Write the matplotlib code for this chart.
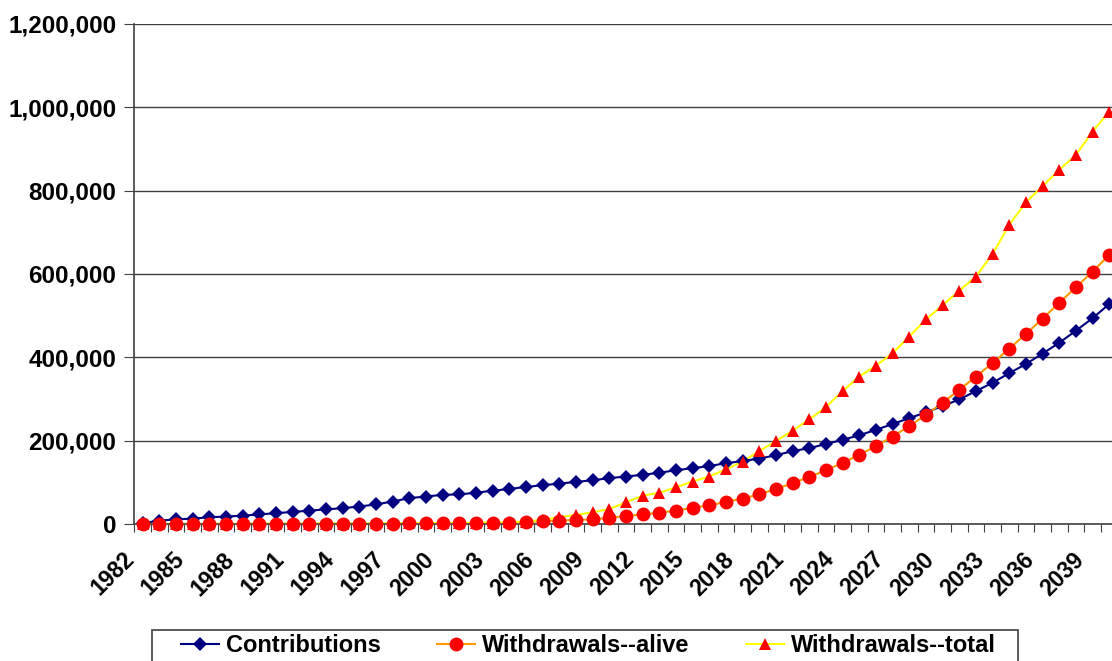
import matplotlib
matplotlib.use("Agg")
import matplotlib.pyplot as plt
import matplotlib.transforms as mtransforms
from matplotlib.lines import Line2D
from matplotlib.patches import Rectangle
from matplotlib.ticker import FuncFormatter, MultipleLocator

plt.rcParams['font.family'] = ['Liberation Sans', 'DejaVu Sans']
plt.rcParams['font.weight'] = 'bold'

years = list(range(1982, 2041))

# values in thousands
contributions = [2, 8, 11, 13, 16, 18, 20, 23, 26, 29,
                 32, 35, 38, 42, 47, 54, 62, 66, 70, 71,
                 75, 80, 84, 89, 93, 97, 101, 105, 110, 114,
                 118, 123, 129, 134, 139, 146, 151, 157, 165, 175,
                 182, 192, 202, 213, 226, 240, 254, 268, 283, 299,
                 319, 339, 362, 384, 409, 435, 464, 494, 528]
withdrawals_alive = [0, 0, 0, 0, 0.2, 0.3, 0.4, 0.5, 0.5, 0.6,
                     0.7, 0.8, 0.9, 1.0, 1.0, 1.2, 1.4, 1.6, 1.8, 2.0,
                     2.3, 2.6, 3, 5, 7, 8, 10, 11, 15, 19,
                     23, 27, 32, 39, 45, 53, 61, 71, 84, 98,
                     113, 129, 147, 166, 187, 210, 235, 262, 291, 322,
                     354, 386, 421, 456, 493, 531, 568, 606, 646]
withdrawals_total = [0, 0, 0.1, 0.2, 0.3, 0.4, 0.5, 0.6, 0.7, 0.8,
                     0.9, 1.0, 1.1, 1.2, 1.4, 1.6, 1.8, 2.0, 2.5, 2.8,
                     3.0, 3.5, 4, 6, 10, 16, 22, 28, 36, 52,
                     68, 75, 88, 102, 114, 131, 150, 175, 199, 224,
                     251, 281, 319, 354, 380, 410, 450, 491, 525, 560,
                     594, 648, 718, 772, 811, 850, 886, 942, 990]

labels = ['Contributions', 'Withdrawals--alive', 'Withdrawals--total']
line_colors = ['#000080', '#FF9900', '#FFFF00']
marker_colors = ['#000080', '#FF0000', '#FF0000']
markers = ['D', 'o', '^']
marker_sizes = [7.5, 10, 8]

series = [[v * 1000 for v in s] for s in (contributions, withdrawals_alive, withdrawals_total)]

W, H = 1112, 661
fig = plt.figure(figsize=(W / 100, H / 100), dpi=100)
ax = fig.add_axes([134.3 / W, 137 / H, 983.3 / W, 500 / H])

# lines first, then markers on top (as in the source chart)
for vals, lc in zip(series, line_colors):
    ax.plot(years, vals, color=lc, lw=1.5, zorder=2)
for vals, mk, mc, ms in zip(series, markers, marker_colors, marker_sizes):
    ax.plot(years, vals, ls='none', marker=mk, color=mc, ms=ms,
            markeredgewidth=0, zorder=3, clip_on=False)

ax.set_xlim(1981.5, 2040.5)
ax.set_ylim(0, 1200000)
ax.yaxis.set_major_locator(MultipleLocator(200000))
ax.yaxis.set_major_formatter(FuncFormatter(lambda v, p: f'{int(v):,}'))
ax.grid(axis='y', color='#404040', lw=1)
ax.set_axisbelow(True)

# tick marks between categories, labels every 3 years
ax.set_xticks([1981.5] + [y + 0.5 for y in years[:-1]])
ax.set_xticklabels([])
ax.set_xticks(years[::3], minor=True)
ax.set_xticklabels([str(y) for y in years[::3]], minor=True, rotation=45,
                   ha='right', va='center', rotation_mode='anchor')
ax.tick_params(axis='x', which='major', direction='out', length=6, color='#404040')
ax.tick_params(axis='x', which='minor', length=0, pad=23, labelsize=16.5)
ax.tick_params(axis='y', direction='out', length=7, color='#404040', labelsize=17.5, pad=6)

shift = mtransforms.ScaledTranslation(-12 / 100, 0, fig.dpi_scale_trans)
for lab in ax.get_xticklabels(minor=True):
    lab.set_transform(lab.get_transform() + shift)

for side in ('top', 'right'):
    ax.spines[side].set_visible(False)
for side in ('left', 'bottom'):
    ax.spines[side].set_color('#404040')
    ax.spines[side].set_linewidth(1.2)

# legend (frame drawn separately, bottom runs off the image)
handles = [Line2D([], [], color=lc, lw=1.5, marker=mk, markerfacecolor=mc,
                  markeredgewidth=0, ms=ms)
           for lc, mk, mc, ms in zip(line_colors, markers, marker_colors, marker_sizes)]
fig.legend(handles, labels, ncol=3, loc='center left',
           bbox_to_anchor=(181 / W, 1 - 646 / H),
           frameon=False, fontsize=17, handlelength=1.6, handletextpad=0.3,
           columnspacing=2.4, borderpad=0, borderaxespad=0)
fig.patches.append(Rectangle((152 / W, -0.02), (1018 - 152) / W, (H - 630) / H + 0.02,
                             transform=fig.transFigure, fill=False,
                             edgecolor='#404040', lw=1.2))

fig.savefig('out.png', dpi=100)
